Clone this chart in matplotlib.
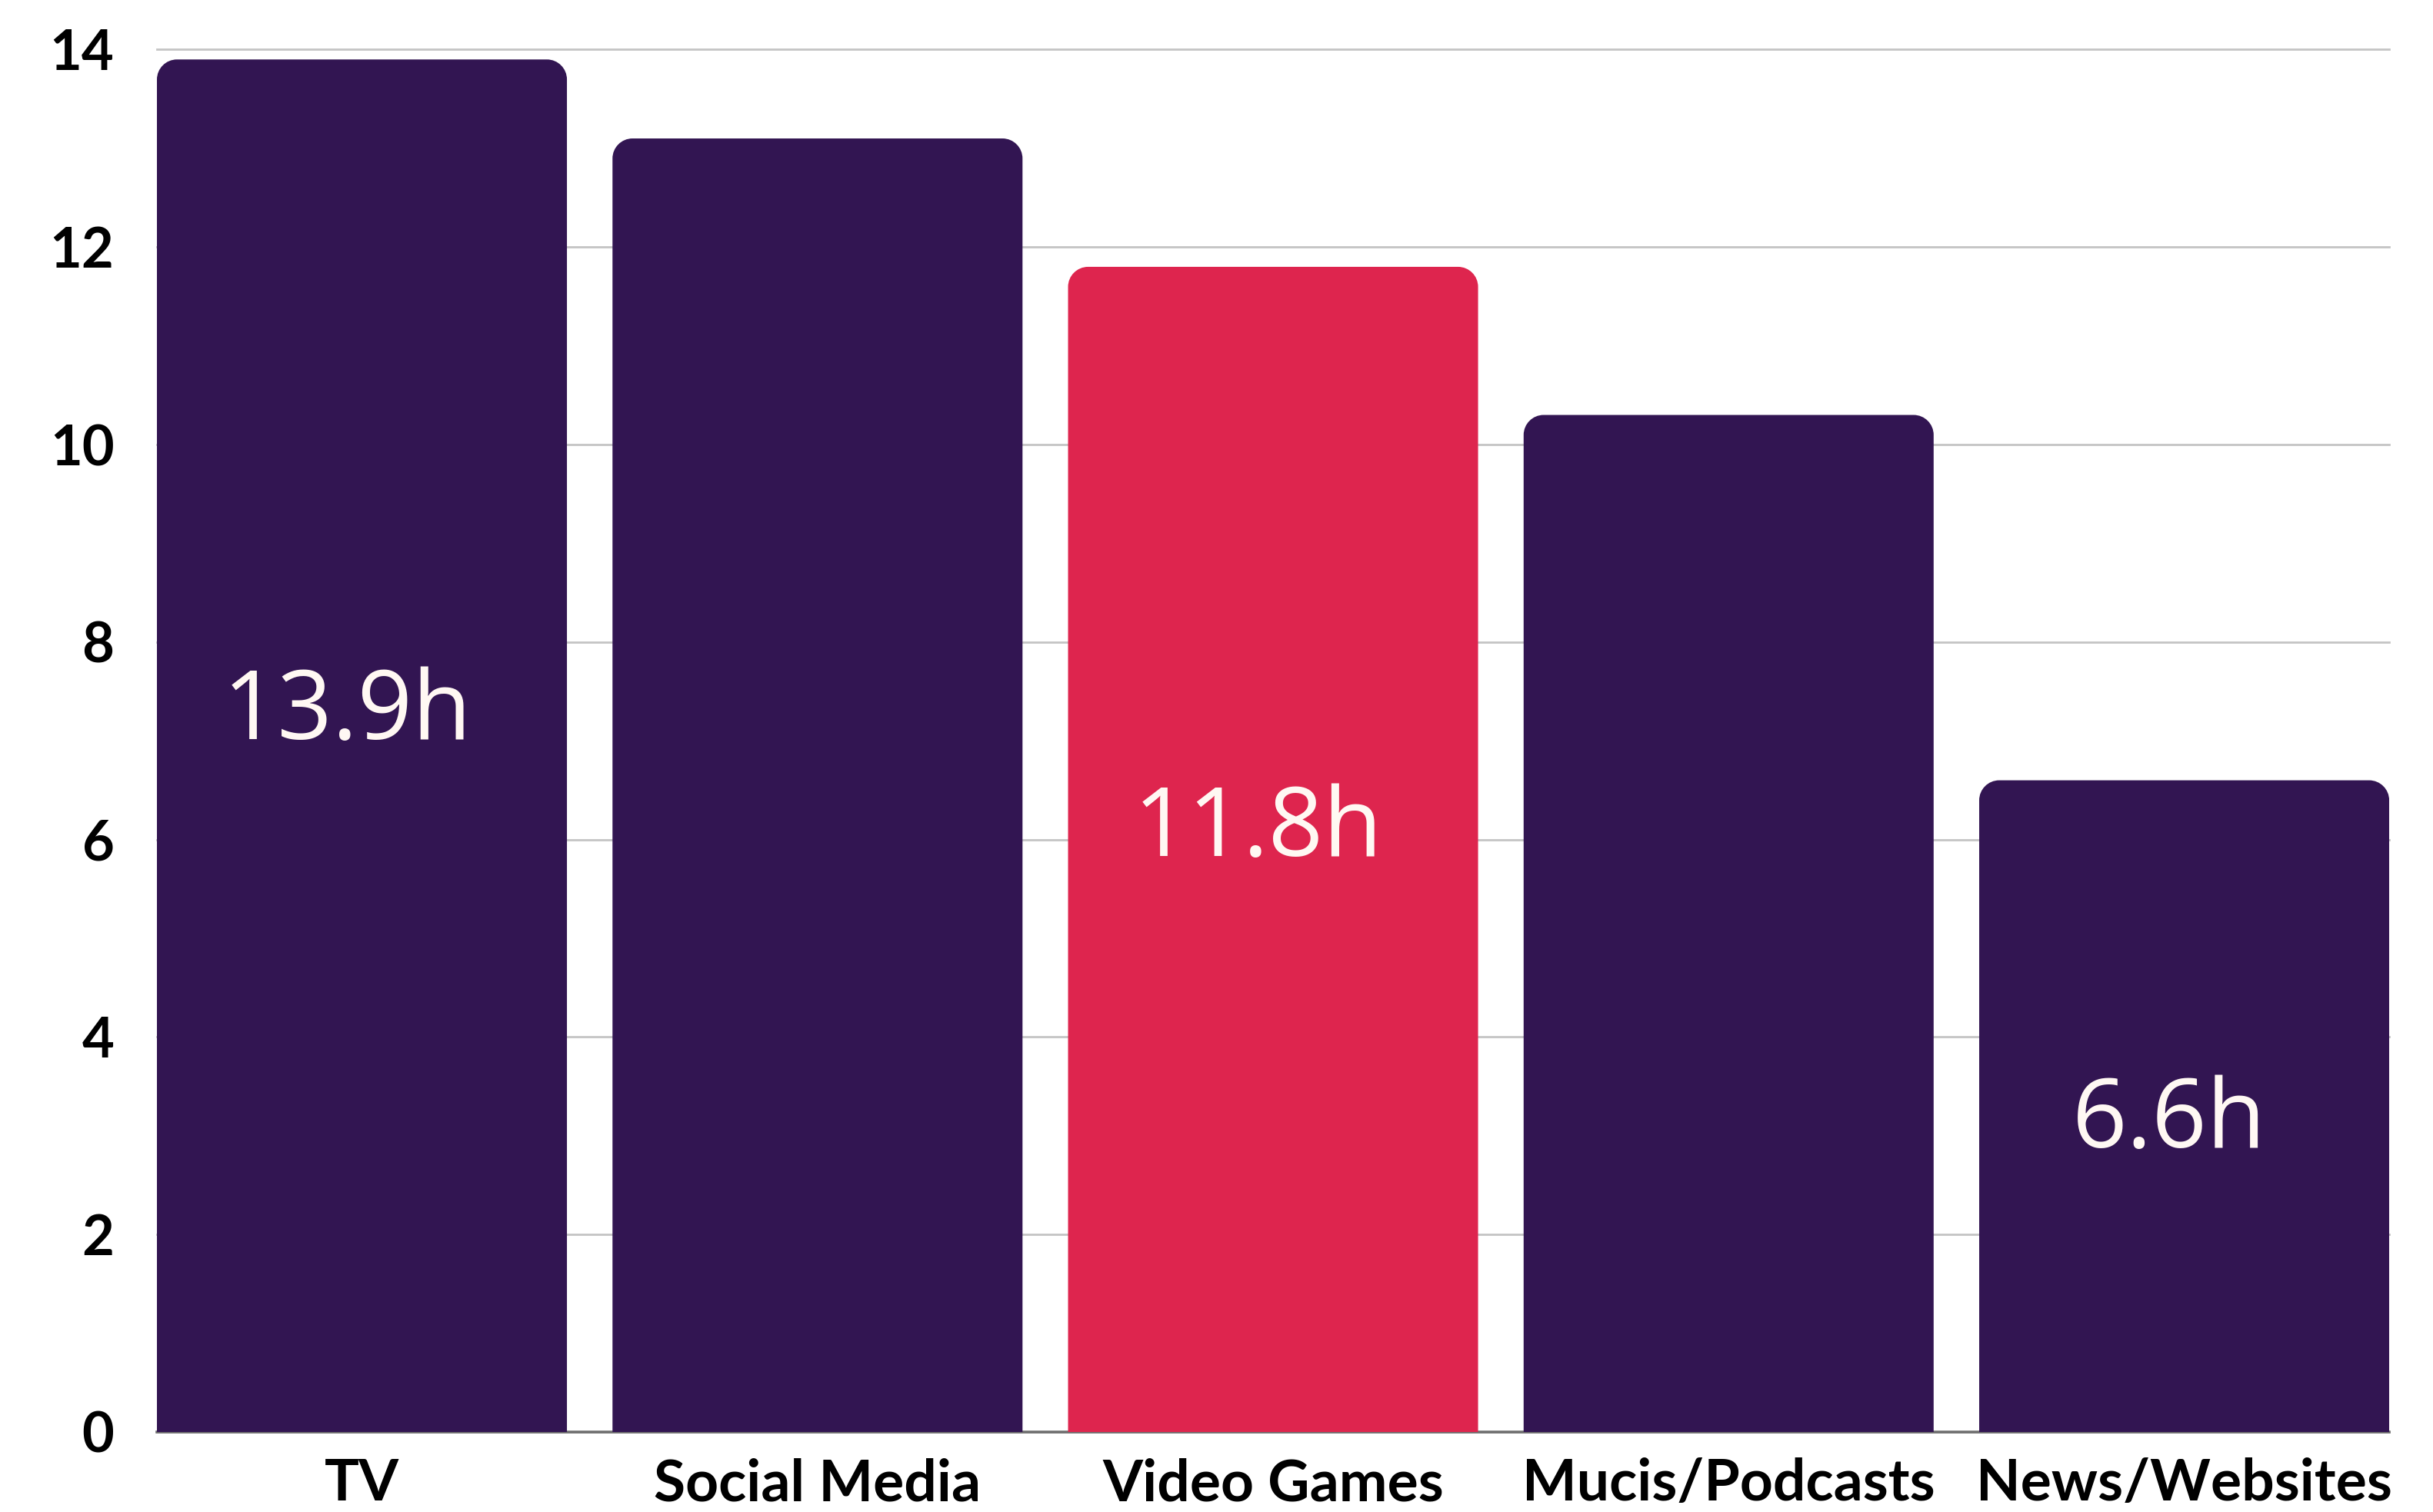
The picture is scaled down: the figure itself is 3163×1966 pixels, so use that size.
import matplotlib

matplotlib.use("Agg")
import matplotlib.pyplot as plt
from matplotlib.patches import PathPatch
from matplotlib.path import Path

categories = ["TV", "Social Media", "Video Games", "Mucis/Podcasts", "News/Websites"]
hours = [13.9, 13.1, 11.8, 10.3, 6.6]
labelled = [True, False, True, False, True]
highlight = "Video Games"
yticks = [0, 2, 4, 6, 8, 10, 12, 14]

PURPLE = "#321552"
RED = "#DE254E"
GRID = "#c4c4c4"
KAPPA = 0.5523


def rounded_top(x0, x1, y0, y1, rx, ry):
    """Bar outline with rounded top corners (rx, ry in data units)."""
    verts = [
        (x0, y0),
        (x0, y1 - ry),
        (x0, y1 - ry + KAPPA * ry), (x0 + rx - KAPPA * rx, y1), (x0 + rx, y1),
        (x1 - rx, y1),
        (x1 - rx + KAPPA * rx, y1), (x1, y1 - ry + KAPPA * ry), (x1, y1 - ry),
        (x1, y0),
        (x0, y0),
    ]
    codes = [Path.MOVETO, Path.LINETO,
             Path.CURVE4, Path.CURVE4, Path.CURVE4,
             Path.LINETO,
             Path.CURVE4, Path.CURVE4, Path.CURVE4,
             Path.LINETO, Path.CLOSEPOLY]
    return Path(verts, codes)


fig = plt.figure(figsize=(15.815, 9.83), dpi=200)
ax = fig.add_axes([0.0645, 0.0529, 0.9175, 0.9143])
ax.set_xlim(-0.45, len(categories) - 0.55)
ax.set_ylim(0, 14)

colors = [RED if c == highlight else PURPLE for c in categories]
bars = ax.bar(range(len(categories)), hours, width=0.9, color=colors, zorder=2)

# swap the square bars for ones with rounded tops
fig.canvas.draw()
bbox = ax.get_window_extent()
px_x = bbox.width / (ax.get_xlim()[1] - ax.get_xlim()[0])
px_y = bbox.height / (ax.get_ylim()[1] - ax.get_ylim()[0])
radius = 26
for rect, col in zip(bars, colors):
    rect.set_visible(False)
    x0 = rect.get_x()
    x1 = x0 + rect.get_width()
    path = rounded_top(x0, x1, 0, rect.get_height(), radius / px_x, radius / px_y)
    ax.add_patch(PathPatch(path, facecolor=col, edgecolor="none", zorder=2))

# value labels sit a little above mid-bar on tall bars, a little below on short ones
for i, (v, show) in enumerate(zip(hours, labelled)):
    if show:
        ax.annotate(f"{v}h", xy=(i, 0.567 * v - 0.86), xytext=(-7, 0),
                    textcoords="offset points", ha="center", va="baseline",
                    color="#fff8f3", fontsize=45, family="Open Sans", zorder=3)

ax.set_yticks(yticks)
ax.set_xticks(range(len(categories)))
ax.set_xticklabels(categories)
for lbl in ax.get_yticklabels():
    lbl.set_fontfamily("Lato")
    lbl.set_fontweight("bold")
    lbl.set_fontsize(26)
for lbl in ax.get_xticklabels():
    lbl.set_fontfamily("Lato")
    lbl.set_fontweight("bold")
    lbl.set_fontsize(27)
ax.tick_params(axis="y", length=0, pad=20)
ax.tick_params(axis="x", length=0, pad=12)

ax.grid(axis="y", color=GRID, linewidth=1.0, zorder=0)
ax.set_axisbelow(True)
for side in ["top", "right", "left"]:
    ax.spines[side].set_visible(False)
ax.spines["bottom"].set_color("#6f6f6f")
ax.spines["bottom"].set_linewidth(1.3)
ax.spines["bottom"].set_zorder(1)
for gl in ax.get_ygridlines():
    gl.set_clip_on(False)

fig.savefig("out.png", dpi=200, facecolor="white")
